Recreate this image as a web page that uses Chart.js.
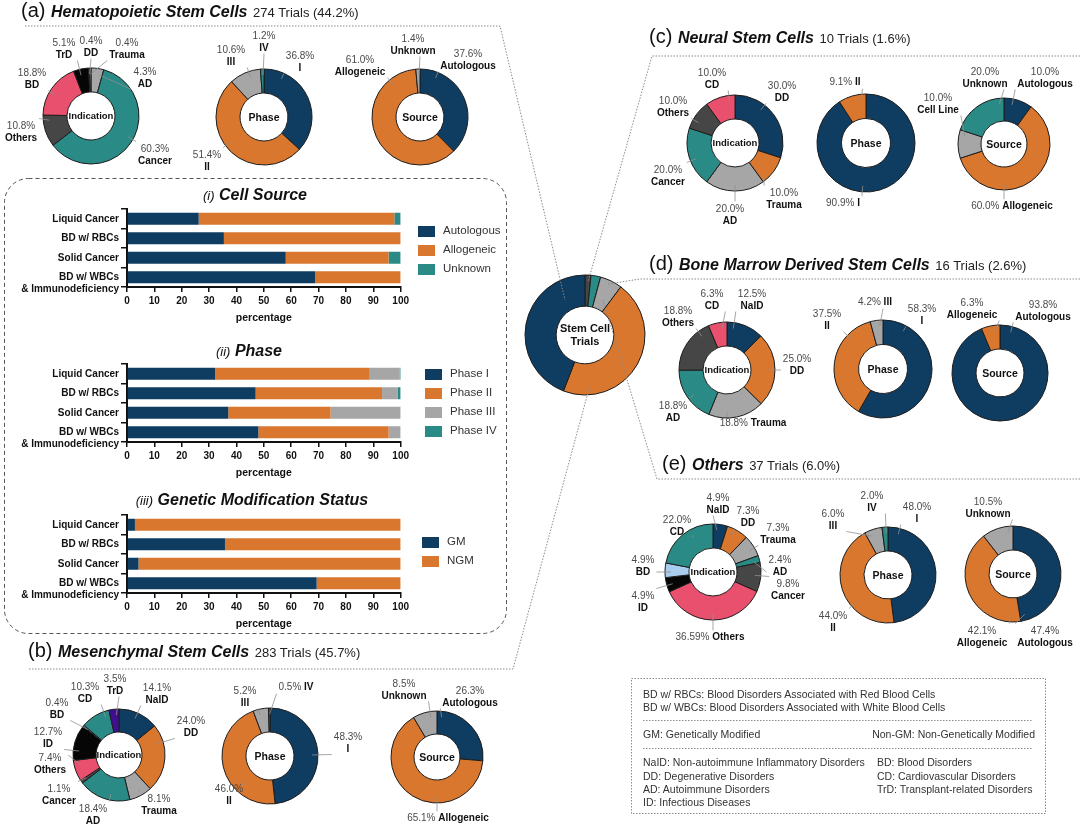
<!DOCTYPE html>
<html>
<head>
<meta charset="utf-8">
<script src="https://cdn.jsdelivr.net/npm/chart.js@4.4.0/dist/chart.umd.min.js"></script>
<style>
body{margin:0;background:#fff;}
#page{position:relative;width:1080px;height:824px;overflow:hidden;font-family:"Liberation Sans",Arial,sans-serif;color:#111;}
#page canvas{position:absolute;z-index:1;}
.lbl{position:absolute;z-index:3;font-size:10px;line-height:11.5px;text-align:center;white-space:nowrap;transform:translate(-50%,-50%);}
.lbl .p{color:#4a4a4a;}
.lbl .n{font-weight:bold;color:#111;}
.ctr{position:absolute;z-index:3;font-weight:bold;text-align:center;white-space:nowrap;transform:translate(-50%,-50%);}
.hdr{position:absolute;z-index:3;white-space:nowrap;font-size:20px;line-height:24px;color:#111;}
.hdr .nm{font-weight:bold;font-style:italic;font-size:16px;}
.hdr .tr{font-size:13px;color:#222;}
.btitle{position:absolute;z-index:3;white-space:nowrap;transform:translate(-50%,-50%);}
.btitle .r{font-style:italic;font-size:13px;}
.btitle .b{font-style:italic;font-weight:bold;font-size:16px;}
.leg{position:absolute;z-index:3;font-size:11.5px;color:#333;white-space:nowrap;}
.sw{position:absolute;z-index:3;width:17px;height:11px;}
.note{position:absolute;z-index:3;font-size:10.5px;color:#333;white-space:nowrap;}
</style>
</head>
<body>
<div id="page">
<svg width="1080" height="824" style="position:absolute;left:0;top:0;z-index:2;pointer-events:none">
  <g fill="none" stroke="#8a8a8a" stroke-width="1" stroke-dasharray="1.5 1.5">
    <polyline points="25,26 500,26 565,300"/>
    <polyline points="1080,56 652,56 588,282"/>
    <polyline points="1080,279 640,279 608,284"/>
    <polyline points="1080,479 657,479 603,300"/>
    <polyline points="29,669 513,669 590,385"/>
    <rect x="631.5" y="678.5" width="414" height="135"/>
    <line x1="643" y1="720.5" x2="1033" y2="720.5"/>
    <line x1="643" y1="748.5" x2="1033" y2="748.5"/>
  </g>
  <rect x="4.5" y="178.5" width="502" height="455" rx="24" fill="none" stroke="#555" stroke-width="1" stroke-dasharray="4 3"/>
</svg>
</div>
<script>
// ---- overall split of trials ----
const overallLabels = ['Neural Stem Cells', 'Bone Marrow Derived Stem Cells', 'Others', 'Mesenchymal Stem Cells', 'Hematopoietic Stem Cells'];
const overallValues = [1.6, 2.6, 6.0, 45.7, 44.2];

// ---- (a) Hematopoietic ----
const hscIndLabels = ['AD', 'Cancer', 'Others', 'BD', 'TrD', 'DD', 'Trauma'];
const hscIndValues = [4.3, 60.3, 10.8, 18.8, 5.1, 0.4, 0.4];
const hscPhaseLabels = ['I', 'II', 'III', 'IV'];
const hscPhaseValues = [36.8, 51.4, 10.6, 1.2];
const hscSourceLabels = ['Autologous', 'Allogeneic', 'Unknown'];
const hscSourceValues = [37.6, 61.0, 1.4];

// ---- (b) Mesenchymal ----
const mscIndLabels = ['NaID', 'DD', 'Trauma', 'AD', 'Cancer', 'Others', 'ID', 'BD', 'CD', 'TrD'];
const mscIndValues = [14.1, 24.0, 8.1, 18.4, 1.1, 7.4, 12.7, 0.4, 10.3, 3.5];
const mscPhaseLabels = ['I', 'II', 'III', 'IV'];
const mscPhaseValues = [48.3, 46.0, 5.2, 0.5];
const mscSourceLabels = ['Autologous', 'Allogeneic', 'Unknown'];
const mscSourceValues = [26.3, 65.1, 8.5];

// ---- (c) Neural ----
const nscIndLabels = ['DD', 'Trauma', 'AD', 'Cancer', 'Others', 'CD'];
const nscIndValues = [30.0, 10.0, 20.0, 20.0, 10.0, 10.0];
const nscPhaseLabels = ['I', 'II'];
const nscPhaseValues = [90.9, 9.1];
const nscSourceLabels = ['Autologous', 'Allogeneic', 'Cell Line', 'Unknown'];
const nscSourceValues = [10.0, 60.0, 10.0, 20.0];

// ---- (d) Bone marrow derived ----
const bmIndLabels = ['NaID', 'DD', 'Trauma', 'AD', 'Others', 'CD'];
const bmIndValues = [12.5, 25.0, 18.8, 18.8, 18.8, 6.3];
const bmPhaseLabels = ['I', 'II', 'III'];
const bmPhaseValues = [58.3, 37.5, 4.2];
const bmSourceLabels = ['Autologous', 'Allogeneic'];
const bmSourceValues = [93.8, 6.3];

// ---- (e) Others ----
const othIndLabels = ['NaID', 'DD', 'Trauma', 'AD', 'Cancer', 'Others', 'ID', 'BD', 'CD'];
const othIndValues = [4.9, 7.3, 7.3, 2.4, 9.8, 36.59, 4.9, 4.9, 22.0];
const othPhaseLabels = ['I', 'II', 'III', 'IV'];
const othPhaseValues = [48.0, 44.0, 6.0, 2.0];
const othSourceLabels = ['Autologous', 'Allogeneic', 'Unknown'];
const othSourceValues = [47.4, 42.1, 10.5];

// ---- HSC bar charts (percentage) ----
const barCats = ['Liquid Cancer', 'BD w/ RBCs', 'Solid Cancer', ['', 'BD w/ WBCs', '& Immunodeficiency']];
const srcAutologous = [26.2, 35.4, 58.0, 68.7];
const srcAllogeneic = [71.5, 64.6, 37.6, 31.3];
const srcUnknown = [2.3, 0, 4.4, 0];
const phaseI = [32.2, 47.0, 37.0, 48.0];
const phaseII = [56.5, 46.2, 37.4, 47.6];
const phaseIII = [10.9, 5.8, 25.6, 4.4];
const phaseIV = [0.4, 1.0, 0, 0];
const gmYes = [2.9, 35.8, 4.2, 69.3];
const gmNo = [97.1, 64.2, 95.8, 30.7];

// colours
const NAVY = '#0f3c61', ORANGE = '#d9772f', TEAL = '#2a8a86', GREY = '#a6a6a6', DKGREY = '#464646',
      PINK = '#e9506d', BLACK = '#060606', LTBLUE = '#a9cdef', PURPLE = '#3f0f8f', LTGREY = '#cfcfcf';

// label block centres on the page [x, y, s=stacked / i=inline]
const hscIndPos = [[145,77,'s'],[155,154,'s'],[21,131,'s'],[32,78,'s'],[64,48,'s'],[91,46,'s'],[127,48,'s']];
const hscPhasePos = [[300,61,'s'],[207,160,'s'],[231,55,'s'],[264,41,'s']];
const hscSourcePos = [[468,59,'s'],[360,65,'s'],[413,44,'s']];
const nscIndPos = [[782,91,'s'],[784,198,'s'],[730,214,'s'],[668,175,'s'],[673,106,'s'],[712,78,'s']];
const nscPhasePos = [[843,203,'i'],[845,82,'i']];
const nscSourcePos = [[1045,77,'s'],[1012,206,'i'],[938,103,'s'],[985,77,'s']];
const bmIndPos = [[752,299,'s'],[797,364,'s'],[753,423,'i'],[673,411,'s'],[678,316,'s'],[712,299,'s']];
const bmPhasePos = [[922,314,'s'],[827,319,'s'],[875,302,'i']];
const bmSourcePos = [[1043,310,'s'],[972,308,'s']];
const othIndPos = [[718,503,'s'],[748,516,'s'],[778,533,'s'],[780,565,'s'],[788,589,'s'],[710,637,'i'],[643,601,'s'],[643,565,'s'],[677,525,'s']];
const othPhasePos = [[917,512,'s'],[833,621,'s'],[833,519,'s'],[872,501,'s']];
const othSourcePos = [[1045,636,'s'],[982,636,'s'],[988,507,'s']];
const mscIndPos = [[157,693,'s'],[191,726,'s'],[159,804,'s'],[93,814,'s'],[59,794,'s'],[50,763,'s'],[48,737,'s'],[57,708,'s'],[85,692,'s'],[115,684,'s']];
const mscPhasePos = [[348,742,'s'],[229,794,'s'],[245,696,'s'],[296,687,'i']];
const mscSourcePos = [[470,696,'s'],[448,818,'i'],[404,689,'s']];

const page = document.getElementById('page');
const FONT = '"Liberation Sans", Arial, sans-serif';

function el(cls, html, css) {
  const d = document.createElement('div');
  d.className = cls;
  d.innerHTML = html;
  Object.assign(d.style, css || {});
  page.appendChild(d);
  return d;
}

function pct(v) {
  return (Math.abs(v * 10 - Math.round(v * 10)) < 1e-6 ? v.toFixed(1) : v.toFixed(2)) + '%';
}

// leader lines from each slice to its text block
const leader = {
  id: 'leader',
  afterDatasetsDraw(chart, args, opts) {
    if (!opts.boxes) return;
    const ctx = chart.ctx;
    ctx.save();
    ctx.strokeStyle = '#8f8f8f';
    ctx.lineWidth = 0.8;
    chart.getDatasetMeta(0).data.forEach((arc, i) => {
      const b = opts.boxes[i];
      if (!b) return;
      const p = arc.getProps(['x', 'y', 'startAngle', 'endAngle', 'outerRadius'], true);
      const x0 = b.left - opts.ox - 2, x1 = b.right - opts.ox + 2;
      const y0 = b.top - opts.oy - 1, y1 = b.bottom - opts.oy + 1;
      const ax = Math.min(Math.max(p.x, x0), x1), ay = Math.min(Math.max(p.y, y0), y1);
      const s = p.startAngle, e = p.endAngle, span = e - s;
      let a = Math.atan2(ay - p.y, ax - p.x);
      while (a < s) a += 2 * Math.PI;
      while (a >= s + 2 * Math.PI) a -= 2 * Math.PI;
      if (a > e) a = (a - e) < (s + 2 * Math.PI - a) ? e : s;
      const m = Math.min(span * 0.3, 0.12);
      a = Math.min(Math.max(a, s + m), e - m);
      const rr = p.outerRadius - 6;
      ctx.beginPath();
      ctx.moveTo(p.x + rr * Math.cos(a), p.y + rr * Math.sin(a));
      ctx.lineTo(ax, ay);
      ctx.stroke();
    });
    ctx.restore();
  }
};

function donut(cx, cy, r, labels, values, colors, pos, centerText, centerSize, cut) {
  const boxes = [];
  if (pos) {
    labels.forEach((name, i) => {
      const [x, y, mode] = pos[i];
      const html = mode === 'i'
        ? '<span class="p">' + pct(values[i]) + '</span> <span class="n">' + name + '</span>'
        : '<span class="p">' + pct(values[i]) + '</span><br><span class="n">' + name + '</span>';
      const d = el('lbl', html, {left: x + 'px', top: y + 'px'});
      boxes.push(d.getBoundingClientRect());
    });
  }
  const W = 240, H = 220;
  const cv = document.createElement('canvas');
  cv.width = W; cv.height = H;
  cv.style.left = (cx - W / 2) + 'px';
  cv.style.top = (cy - H / 2) + 'px';
  page.appendChild(cv);
  new Chart(cv, {
    type: 'doughnut',
    data: {labels: labels, datasets: [{data: values, backgroundColor: colors, borderColor: '#1c1c1c', borderWidth: 1}]},
    options: {
      responsive: false, animation: false, events: [],
      radius: r, cutout: cut || '50%',
      layout: {padding: 0},
      plugins: {legend: {display: false}, tooltip: {enabled: false},
        leader: {boxes: pos ? boxes : null, ox: cx - W / 2, oy: cy - H / 2}}
    },
    plugins: [leader]
  });
  el('ctr', centerText, {left: cx + 'px', top: cy + 'px', fontSize: centerSize + 'px', lineHeight: (centerSize + 2) + 'px'});
}

// plot area top = canvas top + 20 (half of the three-line last label + padding)
function bars(top, height, series) {
  const cv = document.createElement('canvas');
  cv.width = 412; cv.height = height;
  cv.style.left = '0px';
  cv.style.top = top + 'px';
  page.appendChild(cv);
  const tickFont = {family: FONT, size: 10, weight: 'bold'};
  new Chart(cv, {
    type: 'bar',
    data: {
      labels: barCats,
      datasets: series.map(s => ({label: s[0], data: s[1], backgroundColor: s[2],
        borderWidth: 0, barPercentage: 0.62, categoryPercentage: 1.0}))
    },
    options: {
      indexAxis: 'y', responsive: false, animation: false, events: [],
      layout: {padding: 0},
      plugins: {legend: {display: false}, tooltip: {enabled: false}},
      scales: {
        x: {
          stacked: true, min: 0, max: 100,
          ticks: {stepSize: 10, font: tickFont, color: '#111', padding: 3},
          grid: {drawOnChartArea: false, tickLength: 5, color: '#111', lineWidth: 1.5},
          border: {color: '#111', width: 2},
          title: {display: true, text: 'percentage', color: '#111',
            font: {family: FONT, size: 10.5, weight: 'bold'}, padding: {top: 2, bottom: 2}},
          afterFit(s) { s.height = 39; }
        },
        y: {
          stacked: true,
          ticks: {font: tickFont, color: '#111', padding: 2, autoSkip: false},
          grid: {drawOnChartArea: false, tickLength: 6, color: '#111', lineWidth: 1.5},
          border: {color: '#111', width: 2},
          afterFit(s) { s.width = 127; }
        }
      }
    }
  });
}

// headers
el('hdr', '(a) <span class="nm">Hematopoietic Stem Cells</span> <span class="tr">274 Trials (44.2%)</span>', {left: '21px', top: '-2px'});
el('hdr', '(c) <span class="nm">Neural Stem Cells</span> <span class="tr">10 Trials (1.6%)</span>', {left: '649px', top: '24px'});
el('hdr', '(d) <span class="nm">Bone Marrow Derived Stem Cells</span> <span class="tr">16 Trials (2.6%)</span>', {left: '649px', top: '251px'});
el('hdr', '(e) <span class="nm">Others</span> <span class="tr">37 Trials (6.0%)</span>', {left: '662px', top: '451px'});
el('hdr', '(b) <span class="nm">Mesenchymal Stem Cells</span> <span class="tr">283 Trials (45.7%)</span>', {left: '28px', top: '638px'});

// doughnuts
donut(585, 335, 60, overallLabels, overallValues, [DKGREY, TEAL, GREY, ORANGE, NAVY], null, 'Stem Cell<br>Trials', 11, '48%');

donut(91, 116, 48, hscIndLabels, hscIndValues, [GREY, TEAL, DKGREY, PINK, BLACK, ORANGE, LTGREY], hscIndPos, 'Indication', 9.5);
donut(264, 117, 48, hscPhaseLabels, hscPhaseValues, [NAVY, ORANGE, GREY, TEAL], hscPhasePos, 'Phase', 10.5);
donut(420, 117, 48, hscSourceLabels, hscSourceValues, [NAVY, ORANGE, GREY], hscSourcePos, 'Source', 10.5);

donut(735, 143, 48, nscIndLabels, nscIndValues, [NAVY, ORANGE, GREY, TEAL, DKGREY, PINK], nscIndPos, 'Indication', 9.5);
donut(866, 143, 49, nscPhaseLabels, nscPhaseValues, [NAVY, ORANGE], nscPhasePos, 'Phase', 10.5);
donut(1004, 144, 46, nscSourceLabels, nscSourceValues, [NAVY, ORANGE, GREY, TEAL], nscSourcePos, 'Source', 10.5);

donut(727, 370, 48, bmIndLabels, bmIndValues, [NAVY, ORANGE, GREY, TEAL, DKGREY, PINK], bmIndPos, 'Indication', 9.5);
donut(883, 369, 49, bmPhaseLabels, bmPhaseValues, [NAVY, ORANGE, GREY], bmPhasePos, 'Phase', 10.5);
donut(1000, 373, 48, bmSourceLabels, bmSourceValues, [NAVY, ORANGE], bmSourcePos, 'Source', 10.5);

donut(713, 572, 48, othIndLabels, othIndValues, [NAVY, ORANGE, GREY, TEAL, DKGREY, PINK, BLACK, LTBLUE, TEAL], othIndPos, 'Indication', 9.5);
donut(888, 575, 48, othPhaseLabels, othPhaseValues, [NAVY, ORANGE, GREY, TEAL], othPhasePos, 'Phase', 10.5);
donut(1013, 574, 48, othSourceLabels, othSourceValues, [NAVY, ORANGE, GREY], othSourcePos, 'Source', 10.5);

donut(119, 755, 46, mscIndLabels, mscIndValues, [NAVY, ORANGE, GREY, TEAL, DKGREY, PINK, BLACK, LTBLUE, TEAL, PURPLE], mscIndPos, 'Indication', 9.5);
donut(270, 756, 48, mscPhaseLabels, mscPhaseValues, [NAVY, ORANGE, GREY, TEAL], mscPhasePos, 'Phase', 10.5);
donut(437, 757, 46, mscSourceLabels, mscSourceValues, [NAVY, ORANGE, GREY], mscSourcePos, 'Source', 10.5);

// HSC bar panels
el('btitle', '<span class="r">(i)</span> <span class="b">Cell Source</span>', {left: '255px', top: '195px'});
bars(189, 137, [['Autologous', srcAutologous, NAVY], ['Allogeneic', srcAllogeneic, ORANGE], ['Unknown', srcUnknown, TEAL]]);
el('btitle', '<span class="r">(ii)</span> <span class="b">Phase</span>', {left: '249px', top: '351px'});
bars(344, 137, [['Phase I', phaseI, NAVY], ['Phase II', phaseII, ORANGE], ['Phase III', phaseIII, GREY], ['Phase IV', phaseIV, TEAL]]);
el('btitle', '<span class="r">(iii)</span> <span class="b">Genetic Modification Status</span>', {left: '252px', top: '500px'});
bars(495, 137, [['GM', gmYes, NAVY], ['NGM', gmNo, ORANGE]]);

function legend(x, y0, items) {
  items.forEach((it, i) => {
    const y = y0 + i * 19;
    el('sw', '', {left: x + 'px', top: (y - 5.5) + 'px', background: it[1]});
    el('leg', it[0], {left: (x + 25) + 'px', top: (y - 7) + 'px'});
  });
}
legend(418, 231, [['Autologous', NAVY], ['Allogeneic', ORANGE], ['Unknown', TEAL]]);
legend(425, 374, [['Phase I', NAVY], ['Phase II', ORANGE], ['Phase III', GREY], ['Phase IV', TEAL]]);
legend(422, 542, [['GM', NAVY], ['NGM', ORANGE]]);

// abbreviation box
el('note', 'BD w/ RBCs: Blood Disorders Associated with Red Blood Cells', {left: '643px', top: '688px'});
el('note', 'BD w/ WBCs: Blood Disorders Associated with White Blood Cells', {left: '643px', top: '701px'});
el('note', 'GM: Genetically Modified', {left: '643px', top: '728px'});
el('note', 'Non-GM: Non-Genetically Modified', {right: '45px', top: '728px'});
el('note', 'NaID: Non-autoimmune Inflammatory Disorders', {left: '643px', top: '756px'});
el('note', 'DD: Degenerative Disorders', {left: '643px', top: '770px'});
el('note', 'AD: Autoimmune Disorders', {left: '643px', top: '783px'});
el('note', 'ID: Infectious Diseases', {left: '643px', top: '796px'});
el('note', 'BD: Blood Disorders', {left: '877px', top: '756px'});
el('note', 'CD: Cardiovascular Disorders', {left: '877px', top: '770px'});
el('note', 'TrD: Transplant-related Disorders', {left: '877px', top: '783px'});
</script>
</body>
</html>
